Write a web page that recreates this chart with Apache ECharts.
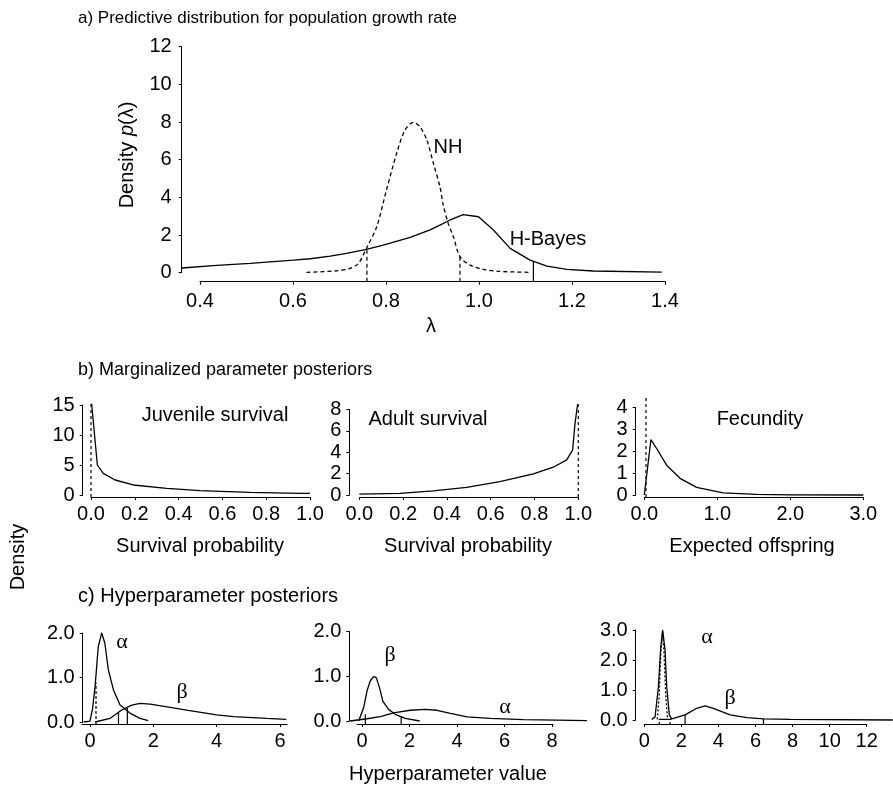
<!DOCTYPE html>
<html><head><meta charset="utf-8">
<script src="https://cdn.jsdelivr.net/npm/echarts@6/dist/echarts.min.js"></script>
<style>html,body{margin:0;padding:0;background:#fff}#c{width:893px;height:787px}</style>
</head><body><div id="c"></div>
<script>
// ---------- DATA ----------
// Panel a
const aXTicks = [0.4, 0.6, 0.8, 1.0, 1.2, 1.4];
const aHBayes = [[0.361,0.25],[0.436,0.39],[0.508,0.50],[0.601,0.67],[0.637,0.74],[0.680,0.88],[0.715,1.03],[0.758,1.24],[0.794,1.47],[0.852,1.88],[0.895,2.27],[0.916,2.53],[0.938,2.80],[0.966,3.08],[0.999,2.97],[1.031,2.27],[1.067,1.29],[1.110,0.67],[1.146,0.35],[1.189,0.18],[1.246,0.09],[1.393,0.035]];
const aNH = [[0.629,0.02],[0.694,0.10],[0.723,0.23],[0.741,0.50],[0.758,1.30],[0.780,2.44],[0.801,4.39],[0.823,6.34],[0.841,7.58],[0.859,7.98],[0.873,7.75],[0.888,7.04],[0.902,5.80],[0.916,4.57],[0.923,3.60],[0.934,2.60],[0.945,1.90],[0.959,0.85],[0.981,0.40],[1.009,0.18],[1.045,0.07],[1.110,0.02]];
const aNHBounds = [[0.759,1.30],[0.959,0.85]];
const aHBBounds = [[1.117,0.62]];
// Panel b
const bJuvTicks = [0, 0.2, 0.4, 0.6, 0.8, 1.0];
const bJuv = [[0.003,15.2],[0.029,5.0],[0.056,3.6],[0.11,2.5],[0.193,1.67],[0.346,1.11],[0.498,0.72],[0.726,0.44],[0.954,0.28],[1.0,0.26]];
const bJuvRef = [[0,15.3]];
const bAdultTicks = [0, 0.2, 0.4, 0.6, 0.8, 1.0];
const bAdult = [[0,0.09],[0.186,0.16],[0.338,0.38],[0.49,0.72],[0.642,1.25],[0.795,1.97],[0.886,2.6],[0.947,3.28],[0.974,4.2],[0.985,6.7],[0.997,8.5]];
const bAdultRef = [[1.0,8.5]];
const bFecTicks = [0, 1.0, 2.0, 3.0];
const bFec = [[0,0],[0.091,2.53],[0.169,2.12],[0.306,1.36],[0.489,0.76],[0.717,0.35],[1.08,0.10],[1.54,0.03],[2.0,0.01],[3.0,0.0]];
const bFecRef = [[0.023,4.5]];
// Panel c
const c1Ticks = [0, 2, 4, 6];
const c1Alpha = [[-0.2,0],[0.0,0.02],[0.08,0.3],[0.16,0.79],[0.26,1.69],[0.37,2.0],[0.47,1.77],[0.58,1.17],[0.74,0.72],[0.95,0.38],[1.26,0.2],[1.58,0.08],[1.84,0.03]];
const c1Beta = [[0.16,0],[0.63,0.08],[1.0,0.27],[1.32,0.38],[1.58,0.42],[1.9,0.40],[2.53,0.33],[3.1,0.26],[4.0,0.16],[4.53,0.12],[5.58,0.08],[6.2,0.06]];
const c1Dashed = [[0.19,0.88]];
const c1Solid = [[0.9,0.22],[1.18,0.32]];
const c2Ticks = [0, 2, 4, 6, 8];
const c2Beta = [[-0.14,0],[0.07,0.3],[0.21,0.67],[0.35,0.9],[0.49,0.99],[0.6,0.97],[0.74,0.74],[0.88,0.44],[1.12,0.26],[1.4,0.15],[1.82,0.06],[2.43,0.0]];
const c2Alpha = [[-0.5,0],[0.21,0.05],[0.77,0.1],[1.33,0.18],[2.03,0.24],[2.67,0.26],[3.16,0.24],[3.72,0.17],[4.42,0.09],[5.4,0.06],[6.8,0.03],[8.2,0.02],[9.47,0.01]];
const c2Solid = [[0.14,0.15],[1.65,0.11]];
const c3Ticks = [0, 2, 4, 6, 8, 10, 12];
const c3Alpha = [[0.4,0.02],[0.58,0.1],[0.76,1.1],[0.89,2.44],[0.99,3.0],[1.12,2.33],[1.21,1.11],[1.35,0.17],[1.48,0.03]];
const c3AlphaNH = [[0.7,0.02],[0.8,0.8],[0.9,2.3],[0.98,2.95],[1.06,2.3],[1.15,0.9],[1.25,0.05]];
const c3Beta = [[0.8,0.02],[1.39,0.02],[2.2,0.17],[2.83,0.39],[3.28,0.47],[3.73,0.39],[4.63,0.17],[5.53,0.08],[6.43,0.04],[7.88,0.02],[13.4,0.0]];
const c3Dashed = [[0.81,0.03],[1.39,0.03]];
const c3Solid = [[2.2,0.17],[6.43,0.04]];

// ---------- LAYOUT ----------
const FONT = 'Liberation Sans, Arial, sans-serif';
const panels = [
  {yAx:181.7, yTop:46.7, yZero:272.7, ymax:12, yInt:2, yFmt:v=>String(v), ticks:aXTicks, x0:200, x1:665, lineY:281.7, lineL:200, lineR:665, dataR:665, xFmt:v=>v.toFixed(1), ylm:10, xlm:10,
   curves:[{d:aHBayes,t:'solid'},{d:aNH,t:[4,3],s:0.3}], vlines:[{d:aNHBounds,t:[4,3]},{d:aHBBounds,t:'solid'}]},
  {yAx:82.7, yTop:405, yZero:495, ymax:15, yInt:5, yFmt:v=>String(v), ticks:bJuvTicks, x0:91, x1:310, lineY:497, lineL:91, lineR:310, dataR:310, xFmt:v=>v.toFixed(1), ylm:8, xlm:7,
   curves:[{d:bJuv,t:'solid'}], vlines:[{d:bJuvRef,t:[3,3]}]},
  {yAx:349.3, yTop:409.5, yZero:495, ymax:8, yInt:2, yFmt:v=>String(v), ticks:bAdultTicks, x0:359.3, x1:578.3, lineY:497, lineL:359.3, lineR:578.3, dataR:578.3, xFmt:v=>v.toFixed(1), ylm:8, xlm:7,
   curves:[{d:bAdult,t:'solid'}], vlines:[{d:bAdultRef,t:[3,3]}]},
  {yAx:635.7, yTop:407.3, yZero:495, ymax:4, yInt:1, yFmt:v=>String(v), ticks:bFecTicks, x0:644.3, x1:863.3, lineY:497, lineL:644.3, lineR:863.3, dataR:863.3, xFmt:v=>v.toFixed(1), ylm:8, xlm:7,
   curves:[{d:bFec,t:'solid'}], vlines:[{d:bFecRef,t:[3,3]}]},
  {yAx:82.7, yTop:633, yZero:722, ymax:2, yInt:1, yFmt:v=>v.toFixed(1), ticks:c1Ticks, x0:90, x1:280, lineY:724, lineL:82, lineR:287, dataR:290, xFmt:v=>String(v), ylm:8, xlm:7,
   curves:[{d:c1Alpha,t:'solid'},{d:c1Beta,t:'solid'}], vlines:[{d:c1Dashed,t:[3,2]},{d:c1Solid,t:'solid'}]},
  {yAx:349.3, yTop:631.5, yZero:721, ymax:2, yInt:1, yFmt:v=>v.toFixed(1), ticks:c2Ticks, x0:362, x1:552, lineY:724, lineL:357, lineR:553, dataR:590, xFmt:v=>String(v), ylm:8, xlm:7,
   curves:[{d:c2Beta,t:'solid'},{d:c2Alpha,t:'solid'}], vlines:[{d:c2Solid,t:'solid'}]},
  {yAx:635.7, yTop:630, yZero:720, ymax:3, yInt:1, yFmt:v=>v.toFixed(1), ticks:c3Ticks, x0:644.3, x1:866.7, lineY:724, lineL:644.3, lineR:866.7, dataR:893, xFmt:v=>String(v), ylm:8, xlm:7,
   curves:[{d:c3AlphaNH,t:[2,2]},{d:c3Alpha,t:'solid'},{d:c3Beta,t:'solid'}], vlines:[{d:c3Dashed,t:[2,2]},{d:c3Solid,t:'solid'}]}
];

const grid = [], xAxis = [], yAxis = [], series = [];
const black = '#000';
panels.forEach((p, i) => {
  const ppu = (p.x1 - p.x0) / (p.ticks[p.ticks.length-1] - p.ticks[0]);
  const t0 = p.ticks[0];
  const gi = grid.length;
  grid.push({left:p.yAx, top:p.yTop, width:p.dataR - p.yAx, height:p.yZero - p.yTop});
  grid.push({left:p.lineL, top:p.lineY - 10, width:p.lineR - p.lineL, height:10});
  xAxis.push({gridIndex:gi, type:'value', show:false, min:t0 - (p.x0 - p.yAx)/ppu, max:t0 + (p.dataR - p.x0)/ppu});
  yAxis.push({gridIndex:gi, type:'value', min:0, max:p.ymax, interval:p.yInt,
    axisLine:{show:true, onZero:false, lineStyle:{color:black, width:1}},
    axisTick:{show:true, length:3, lineStyle:{color:black}},
    axisLabel:{color:black, fontSize:20, fontFamily:FONT, margin:p.ylm, formatter:p.yFmt},
    splitLine:{show:false}});
  xAxis.push({gridIndex:gi+1, type:'value', position:'bottom', min:t0 - (p.x0 - p.lineL)/ppu, max:t0 + (p.lineR - p.x0)/ppu,
    axisLine:{show:true, onZero:false, lineStyle:{color:black, width:1}},
    axisTick:{show:true, length:3, customValues:p.ticks, lineStyle:{color:black}},
    axisLabel:{color:black, fontSize:20, fontFamily:FONT, margin:p.xlm, customValues:p.ticks, formatter:p.xFmt},
    splitLine:{show:false}});
  yAxis.push({gridIndex:gi+1, type:'value', show:false, min:0, max:1});
  const yPerPx = p.ymax / (p.yZero - p.yTop);
  const bottomVal = -(p.lineY - p.yZero) * yPerPx;
  p.curves.forEach(c => series.push({type:'line', xAxisIndex:gi, yAxisIndex:gi, data:c.d, symbol:'none', clip:false, silent:true,
    smooth:c.s || false, lineStyle:{color:black, width:1.3, type:c.t}}));
  p.vlines.forEach(v => v.d.forEach(pt => series.push({type:'line', xAxisIndex:gi, yAxisIndex:gi, data:[[pt[0], bottomVal],[pt[0], pt[1]]], symbol:'none', clip:false, silent:true,
    lineStyle:{color:black, width:1.2, type:v.t}})));
});

function txt(text, x, y, opts) {
  opts = opts || {};
  return {type:'text', x:x, y:y, rotation:opts.rot || 0, silent:true,
    style:Object.assign({text:text, fill:black, font:(opts.size||20)+'px '+(opts.family||FONT), textAlign:opts.align||'center', textVerticalAlign:'middle'}, opts.style||{})};
}
const SERIF = 'Liberation Serif, DejaVu Serif, serif';
const graphic = [
  txt('a) Predictive distribution for population growth rate', 78, 18, {align:'left', size:17}),
  txt('b) Marginalized parameter posteriors', 78, 370, {align:'left', size:18}),
  txt('c) Hyperparameter posteriors', 78, 596, {align:'left'}),
  {type:'text', x:127, y:155, rotation:Math.PI/2, silent:true,
   style:{text:'{n|Density }{i|p}{n|(λ)}', textAlign:'center', textVerticalAlign:'middle', fill:black,
     rich:{n:{fontSize:20, fontFamily:FONT, fill:black}, i:{fontSize:20, fontFamily:FONT, fontStyle:'italic', fill:black}}}},
  txt('λ', 431, 326),
  txt('NH', 448, 147),
  txt('H-Bayes', 548, 239),
  txt('Juvenile survival', 215, 415),
  txt('Adult survival', 428, 419),
  txt('Fecundity', 760, 419),
  txt('Survival probability', 200, 546),
  txt('Survival probability', 468, 546),
  txt('Expected offspring', 752, 546),
  txt('Density', 18, 557, {rot:Math.PI/2}),
  txt('Hyperparameter value', 448, 774),
  txt('α', 122, 642, {family:SERIF, size:22}),
  txt('β', 182, 692, {family:SERIF, size:22}),
  txt('β', 390, 655, {family:SERIF, size:22}),
  txt('α', 505, 707, {family:SERIF, size:22}),
  txt('α', 707, 637, {family:SERIF, size:22}),
  txt('β', 730, 698, {family:SERIF, size:22})
];

const chart = echarts.init(document.getElementById('c'), null, {renderer:'canvas'});
chart.setOption({animation:false, backgroundColor:'#fff', grid, xAxis, yAxis, series, graphic});
</script></body></html>
